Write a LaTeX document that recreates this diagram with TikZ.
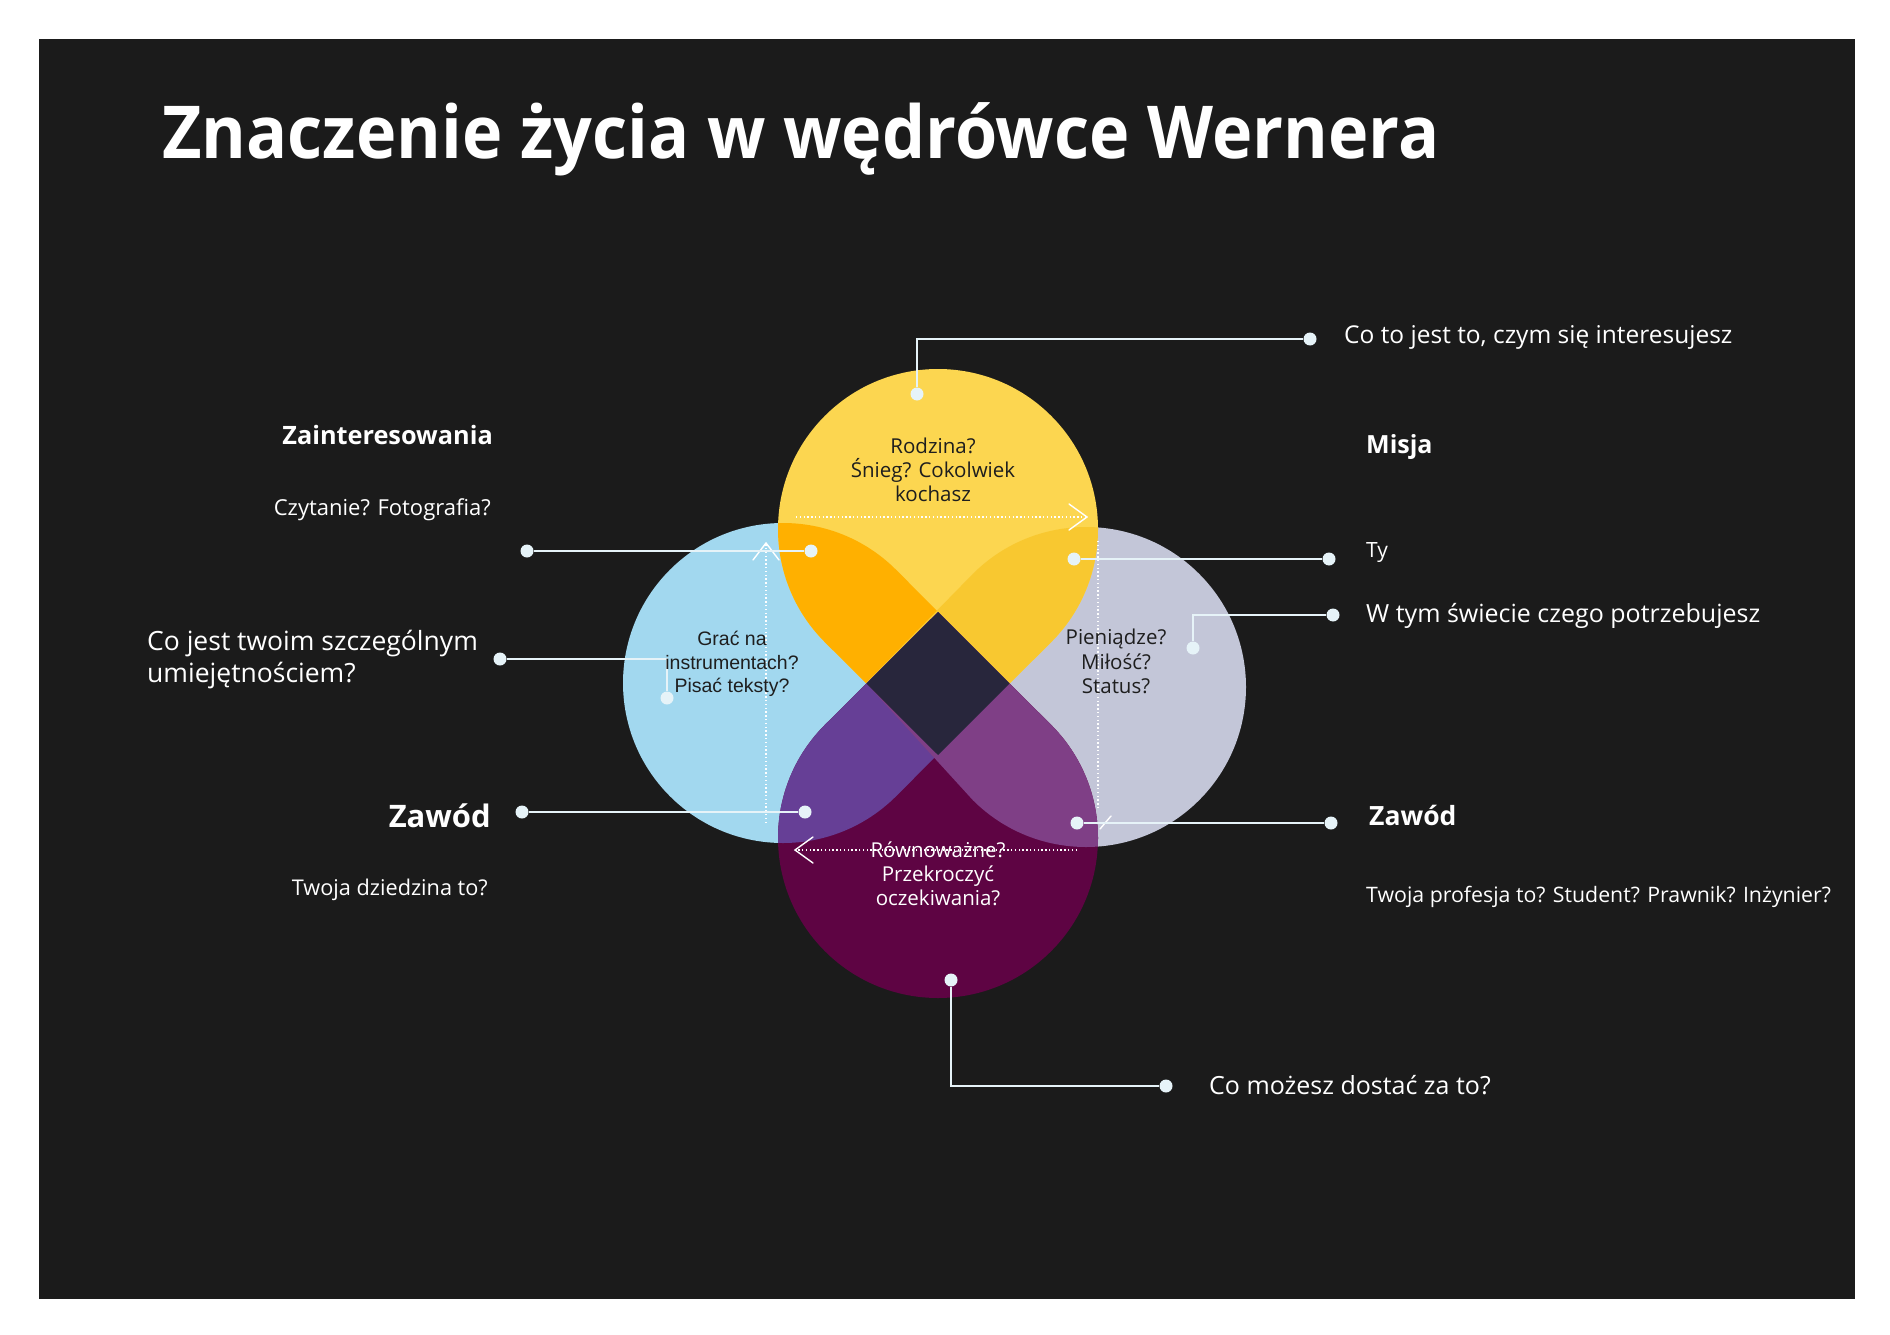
\documentclass[tikz,border=0pt]{standalone}
\usepackage{fontspec}
\setmainfont{Open Sans}
\newfontfamily\titlef[FakeStretch=0.935]{Open Sans}
\newfontfamily\arialf{Liberation Sans}
\usetikzlibrary{calc}
\definecolor{bg}{HTML}{1B1B1B}
\definecolor{yel}{HTML}{FCD650}
\definecolor{yelB}{HTML}{FFB000}
\definecolor{yelG}{HTML}{F8C830}
\definecolor{blu}{HTML}{A2D8EF}
\definecolor{gry}{HTML}{C3C6D8}
\definecolor{pur}{HTML}{5E0443}
\definecolor{purB}{HTML}{663F96}
\definecolor{purG}{HTML}{7F3F86}
\definecolor{dia}{HTML}{28263C}
\definecolor{conn}{HTML}{E6F3F8}
\definecolor{ink}{HTML}{1E1E1E}
\newcommand\lobeY{(TY) -- ([shift={(315:160pt)}]CY) arc[start angle=315,end angle=585,radius=160pt] -- cycle}
\newcommand\lobeB{(TB) -- ([shift={(45:160pt)}]CB) arc[start angle=45,end angle=315,radius=160pt] -- cycle}
\newcommand\lobeG{(TG) -- ([shift={(225:160pt)}]CG) arc[start angle=225,end angle=495,radius=160pt] -- cycle}
\newcommand\lobeP{(TP) -- ([shift={(135:160pt)}]CP) arc[start angle=135,end angle=405,radius=160pt] -- cycle}
\begin{document}
\begin{tikzpicture}[x=1pt,y=-1pt,
  dot/.style={circle, fill=conn, inner sep=0pt, minimum size=13pt},
  link/.style={draw=conn, line width=2.8pt},
  dotline/.style={draw=white, line width=1.4pt, dash pattern=on 1.4pt off 2.4pt},
  chev/.style={draw=white, line width=1.4pt, line cap=round},
  lbl/.style={text=white, inner sep=0pt},
  inlobe/.style={inner sep=0pt, align=center}]
\useasboundingbox (0,0) rectangle (1890,1335);
\fill[white] (0,0) rectangle (1890,1335);
\fill[bg] (39,39) rectangle (1855,1299);

% lobe geometry
\coordinate (CY) at (938,529);  \coordinate (TY) at (938,755);
\coordinate (CB) at (783,683);  \coordinate (TB) at (1009,683);
\coordinate (CG) at (1086,687); \coordinate (TG) at (866,683);
\coordinate (CP) at (938,838);  \coordinate (TP) at (938,612);

\fill[blu] \lobeB;
\fill[gry] \lobeG;
\fill[yel] \lobeY;
\fill[pur] \lobeP;
\begin{scope}\clip \lobeY; \fill[yelB] \lobeB; \end{scope}
\begin{scope}\clip \lobeY; \fill[yelG] \lobeG; \end{scope}
\begin{scope}\clip \lobeP; \fill[purB] \lobeB; \end{scope}
\begin{scope}\clip \lobeP; \fill[purG] \lobeG; \end{scope}
\begin{scope}\clip \lobeY; \fill[dia] \lobeP; \end{scope}

% dotted arrows
\coordinate (ta) at (796,517);  \coordinate (tb) at (1087,517);
\draw[dotline] (ta) -- (tb);
\draw[chev] ([shift={(-18,-13)}]tb) -- (tb) -- ([shift={(-18,13)}]tb);
\coordinate (la) at (766,823);  \coordinate (lb) at (766,543);
\draw[dotline] (la) -- (lb);
\draw[chev] ([shift={(-13,17)}]lb) -- (lb) -- ([shift={(13,17)}]lb);
\coordinate (ba) at (1077,850); \coordinate (bb) at (795,850);
\draw[dotline] (ba) -- (bb);
\draw[chev] ([shift={(18,-13)}]bb) -- (bb) -- ([shift={(18,13)}]bb);
\coordinate (ra) at (1098,541); \coordinate (rb) at (1098,808);
\coordinate (rc) at (1100,829); \coordinate (rd) at (1111,816);
\draw[dotline] (ra) -- (rb);
\draw[chev] (rc) -- (rd);

% connectors
\node[dot] (t1) at (917,394) {};  \node[dot] (t2) at (1310,339) {};
\draw[link] (t1) |- (t2);
\node[dot] (l1a) at (527,551) {}; \node[dot] (l1b) at (811,551) {};
\draw[link] (l1a) -- (l1b);
\node[dot] (l2a) at (500,659) {}; \node[dot] (l2b) at (667,698) {};
\draw[link] (l2a) -| (l2b);
\node[dot] (l3a) at (522,812) {}; \node[dot] (l3b) at (805,812) {};
\draw[link] (l3a) -- (l3b);
\node[dot] (r1a) at (1074,559) {}; \node[dot] (r1b) at (1329,559) {};
\draw[link] (r1a) -- (r1b);
\node[dot] (r2a) at (1193,648) {}; \node[dot] (r2b) at (1333,615) {};
\draw[link] (r2a) |- (r2b);
\node[dot] (r3a) at (1077,823) {}; \node[dot] (r3b) at (1331,823) {};
\draw[link] (r3a) -- (r3b);
\node[dot] (b1) at (951,980) {};  \node[dot] (b2) at (1166,1086) {};
\draw[link] (b1) |- (b2);

% title
\node[lbl, anchor=base west, font=\titlef\fontsize{73}{80}\selectfont\bfseries] (title) at (162,159) {Znaczenie życia w wędrówce Wernera};

% right labels
\node[lbl, anchor=base west, font=\fontsize{24.5}{29}\selectfont] (q1) at (1344,343) {Co to jest to, czym się interesujesz};
\node[lbl, anchor=base west, font=\fontsize{25}{30}\selectfont\bfseries] (misja) at (1366,453) {Misja};
\node[lbl, anchor=base west, font=\fontsize{21}{26}\selectfont] (ty) at (1366,557) {Ty};
\node[lbl, anchor=base west, font=\fontsize{25}{30}\selectfont] (wtym) at (1366,622) {W tym świecie czego potrzebujesz};
\node[lbl, anchor=base west, font=\fontsize{26.5}{31}\selectfont\bfseries] (zawr) at (1369,825) {Zawód};
\node[lbl, anchor=base west, font=\fontsize{21.3}{25}\selectfont] (prof) at (1366,902) {Twoja profesja to? Student? Prawnik? Inżynier?};
\node[lbl, anchor=base west, font=\fontsize{25}{30}\selectfont] (moz) at (1209,1094) {Co możesz dostać za to?};

% left labels
\node[lbl, anchor=base east, font=\fontsize{25.3}{30}\selectfont\bfseries] (zain) at (493,444) {Zainteresowania};
\node[lbl, anchor=base east, font=\fontsize{22}{27}\selectfont] (czyt) at (491,515) {Czytanie? Fotografia?};
\node[lbl, anchor=north west, align=left, font=\fontsize{26.5}{32}\selectfont] (umie) at (147,630) {Co jest twoim szczególnym\\umiejętnościem?};
\node[lbl, anchor=base east, font=\fontsize{31}{37}\selectfont\bfseries] (zawl) at (491,827) {Zawód};
\node[lbl, anchor=base east, font=\fontsize{21.7}{26}\selectfont] (dzie) at (488,895) {Twoja dziedzina to?};

% lobe texts
\node[inlobe, anchor=north, text=ink, font=\fontsize{20.5}{24}\selectfont] (ty1) at (933,438) {Rodzina?\\Śnieg? Cokolwiek\\kochasz};
\node[inlobe, anchor=north, text=ink, font=\arialf\fontsize{19.5}{23.5}\selectfont] (tb1) at (732,631) {Grać na\\instrumentach?\\Pisać teksty?};
\node[inlobe, anchor=north, text=ink, font=\fontsize{20.5}{24.5}\selectfont] (tg1) at (1116,629) {Pieniądze?\\Miłość?\\Status?};
\node[inlobe, anchor=north, text=white, font=\fontsize{20.5}{24}\selectfont] (tp1) at (938,842) {Równoważne?\\Przekroczyć\\oczekiwania?};
\end{tikzpicture}
\end{document}
